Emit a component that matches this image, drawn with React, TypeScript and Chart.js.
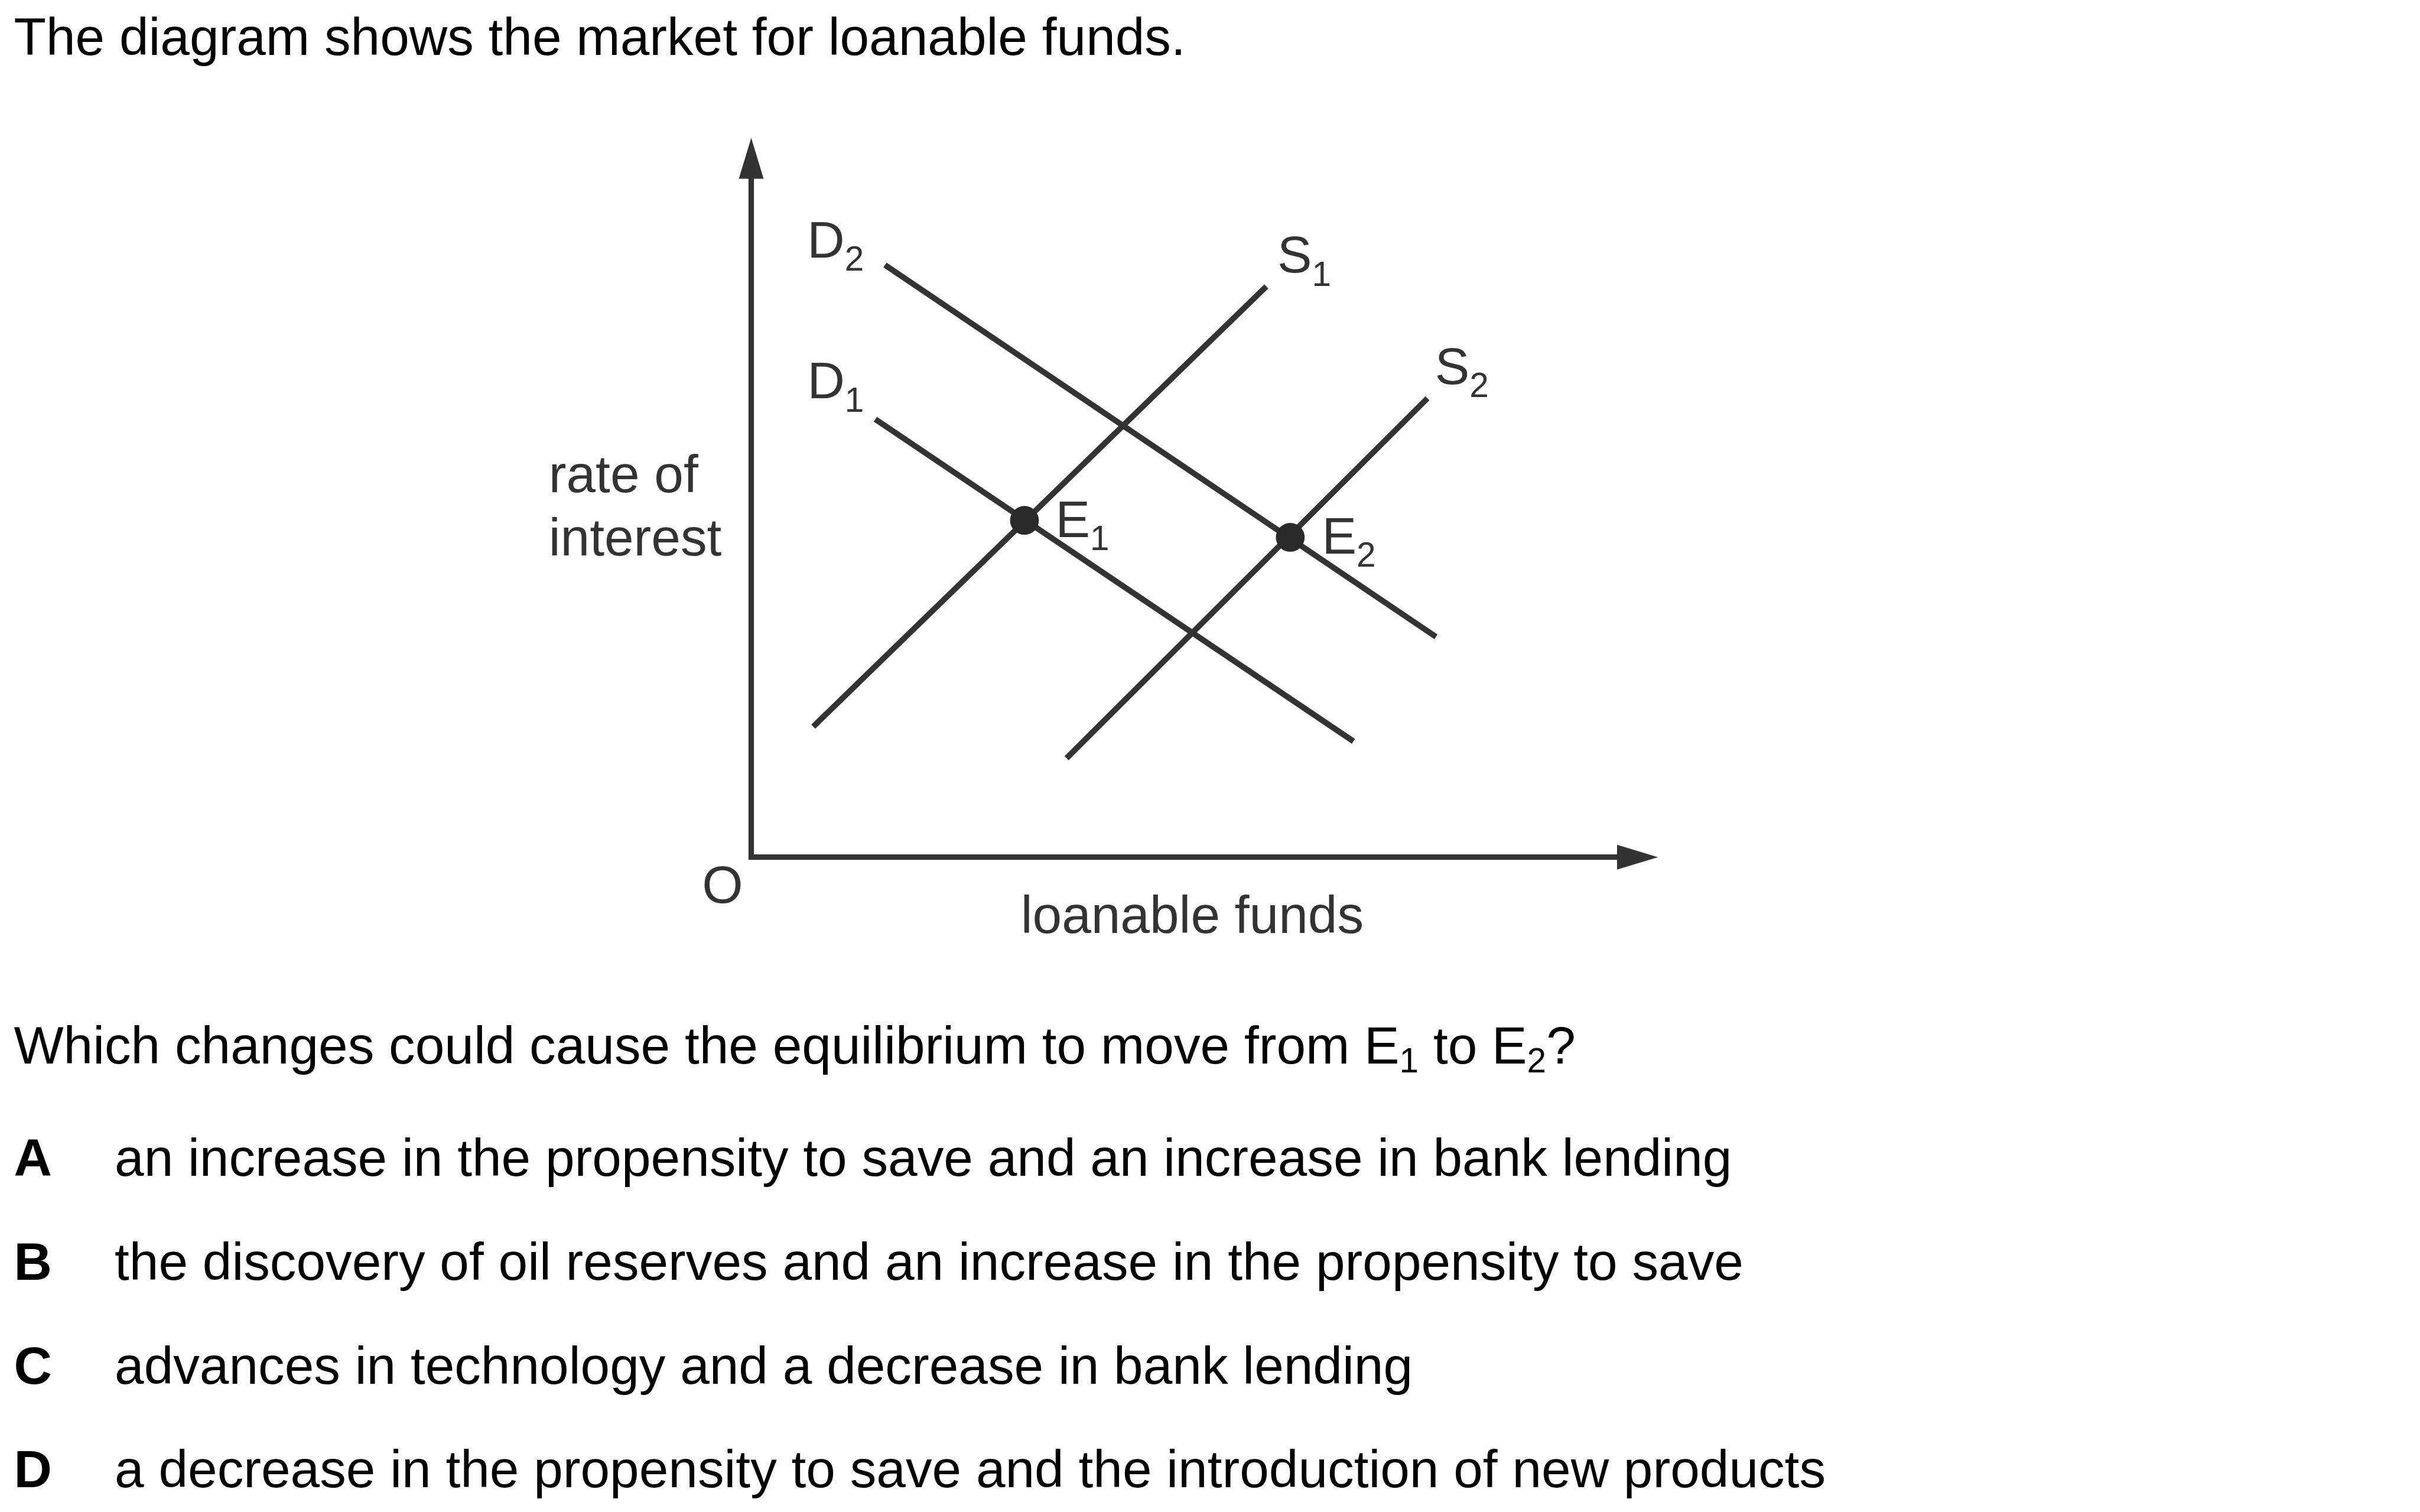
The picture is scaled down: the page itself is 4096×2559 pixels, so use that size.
import React, { useEffect, useRef } from "react";
import { Chart, registerables } from "chart.js";

Chart.register(...registerables);

const W = 4096;
const H = 2559;
const K = 0.975; // reference pixel -> window pixel

// ---------- data (diagram units, origin O at 0,0) ----------
const curveNames = ["D1", "D2", "S1", "S2"];
const d1X = [2.18, 10.58];
const d1Y = [7.75, 2.05];
const d2X = [2.35, 12.03];
const d2Y = [10.48, 3.9];
const s1X = [1.09, 9.05];
const s1Y = [2.31, 10.1];
const s2X = [5.54, 11.88];
const s2Y = [1.75, 8.12];
const equilibriumNames = ["E1", "E2"];
const equilibriumX = [4.8, 9.47];
const equilibriumY = [5.96, 5.66];
const axisEndX = 15.93;
const axisEndY = 12.73;
const viewX = [-12.945, 29.065];
const viewY = [-11.335, 14.915];

// ---------- texts ----------
const introText = "The diagram shows the market for loanable funds.";
const yAxisTitle = ["rate of", "interest"];
const xAxisTitle = "loanable funds";
const originLabel = "O";
const questionParts = [
  "Which changes could cause the equilibrium to move from E",
  "1",
  " to E",
  "2",
  "?",
];
const optionLetters = ["A", "B", "C", "D"];
const optionTexts = [
  "an increase in the propensity to save and an increase in bank lending",
  "the discovery of oil reserves and an increase in the propensity to save",
  "advances in technology and a decrease in bank lending",
  "a decrease in the propensity to save and the introduction of new products",
];

// ---------- styling ----------
const FONT = '"Liberation Sans", Arial, Helvetica, sans-serif';
const INK = "#333333";
const DOT = "#2a2a2a";
const TEXT = "#000000";
const BODY_SIZE = 91.5 * K;
const LABEL_SIZE = 90 * K;
const SUB_SIZE = 60 * K;

const curveXs = [d1X, d2X, s1X, s2X];
const curveYs = [d1Y, d2Y, s1Y, s2Y];
// which end of the curve carries its label and the offset (reference px)
const curveLabelAnchor = [
  { end: 0, dx: -118, dy: -36 },
  { end: 0, dx: -135, dy: -13 },
  { end: 1, dx: 19, dy: -24 },
  { end: 1, dx: 13, dy: -25 },
];
const eqLabelOffset = [
  { dx: 54, dy: 29 },
  { dx: 55, dy: 28 },
];

function drawSubLabel(
  ctx: CanvasRenderingContext2D,
  name: string,
  x: number,
  y: number
) {
  const main = name.slice(0, 1);
  const sub = name.slice(1);
  ctx.font = `${LABEL_SIZE}px ${FONT}`;
  ctx.fillText(main, x, y);
  const w = ctx.measureText(main).width;
  ctx.font = `${SUB_SIZE}px ${FONT}`;
  ctx.fillText(sub, x + w, y + 23 * K);
}

const diagramPlugin = {
  id: "diagramDecor",
  beforeDraw(chart: any) {
    const ctx: CanvasRenderingContext2D = chart.ctx;
    ctx.save();
    ctx.fillStyle = "#ffffff";
    ctx.fillRect(0, 0, chart.width, chart.height);
    ctx.restore();
  },
  beforeDatasetsDraw(chart: any) {
    const ctx: CanvasRenderingContext2D = chart.ctx;
    const xs = chart.scales.x;
    const ys = chart.scales.y;
    const ox = xs.getPixelForValue(0);
    const oy = ys.getPixelForValue(0);
    const tipX = xs.getPixelForValue(axisEndX);
    const tipY = ys.getPixelForValue(axisEndY);
    const headLen = 71 * K;
    const headHalf = 21.5 * K;
    ctx.save();
    ctx.strokeStyle = INK;
    ctx.fillStyle = INK;
    ctx.lineWidth = 9.5 * K;
    ctx.lineJoin = "miter";
    ctx.lineCap = "butt";
    ctx.beginPath();
    ctx.moveTo(ox, tipY + headLen - 2);
    ctx.lineTo(ox, oy);
    ctx.lineTo(tipX - headLen + 2, oy);
    ctx.stroke();
    // y arrow head
    ctx.beginPath();
    ctx.moveTo(ox, tipY);
    ctx.lineTo(ox - headHalf, tipY + headLen);
    ctx.lineTo(ox + headHalf, tipY + headLen);
    ctx.closePath();
    ctx.fill();
    // x arrow head
    ctx.beginPath();
    ctx.moveTo(tipX, oy);
    ctx.lineTo(tipX - headLen, oy - headHalf);
    ctx.lineTo(tipX - headLen, oy + headHalf);
    ctx.closePath();
    ctx.fill();
    ctx.restore();
  },
  afterDraw(chart: any) {
    const ctx: CanvasRenderingContext2D = chart.ctx;
    const xs = chart.scales.x;
    const ys = chart.scales.y;
    const ox = xs.getPixelForValue(0);
    const oy = ys.getPixelForValue(0);
    ctx.save();
    ctx.textBaseline = "alphabetic";
    ctx.textAlign = "left";

    // chart texts
    ctx.fillStyle = INK;
    ctx.font = `${BODY_SIZE}px ${FONT}`;
    ctx.fillText(yAxisTitle[0], ox - 351.5 * K, oy - 633.5 * K);
    ctx.fillText(yAxisTitle[1], ox - 351.5 * K, oy - 523.5 * K);
    ctx.fillText(originLabel, ox - 85.5 * K, oy + 79.5 * K);
    ctx.textAlign = "center";
    ctx.fillText(xAxisTitle, ox + 765.5 * K, oy + 131.5 * K);
    ctx.textAlign = "left";

    curveNames.forEach((name, i) => {
      const a = curveLabelAnchor[i];
      const px = xs.getPixelForValue(curveXs[i][a.end]);
      const py = ys.getPixelForValue(curveYs[i][a.end]);
      drawSubLabel(ctx, name, px + a.dx * K, py + a.dy * K);
    });
    equilibriumNames.forEach((name, i) => {
      const px = xs.getPixelForValue(equilibriumX[i]);
      const py = ys.getPixelForValue(equilibriumY[i]);
      drawSubLabel(
        ctx,
        name,
        px + eqLabelOffset[i].dx * K,
        py + eqLabelOffset[i].dy * K
      );
    });

    // question texts
    ctx.fillStyle = TEXT;
    const left = 24 * K;
    ctx.font = `${BODY_SIZE}px ${FONT}`;
    ctx.fillText(introText, left, 95 * K);

    let x = left;
    const qy = 1846 * K;
    questionParts.forEach((part, i) => {
      const isSub = i % 2 === 1;
      ctx.font = `${isSub ? SUB_SIZE : BODY_SIZE}px ${FONT}`;
      ctx.fillText(part, x, qy + (isSub ? 16 * K : 0));
      x += ctx.measureText(part).width;
    });

    const optionBaselines = [2041, 2222, 2402, 2582];
    optionLetters.forEach((letter, i) => {
      const by = optionBaselines[i] * K;
      ctx.font = `bold ${BODY_SIZE}px ${FONT}`;
      ctx.fillText(letter, left, by);
      ctx.font = `${BODY_SIZE}px ${FONT}`;
      ctx.fillText(optionTexts[i], 199 * K, by);
    });
    ctx.restore();
  },
};

export default function App() {
  const canvasRef = useRef<HTMLCanvasElement | null>(null);

  useEffect(() => {
    const canvas = canvasRef.current;
    if (!canvas) return;
    const datasets: any[] = [
      {
        label: "Equilibria",
        data: equilibriumX.map((x, i) => ({ x, y: equilibriumY[i] })),
        showLine: false,
        pointRadius: 25 * K,
        pointHoverRadius: 25 * K,
        pointBackgroundColor: DOT,
        pointBorderColor: DOT,
        pointBorderWidth: 0,
        order: 0,
      },
      ...curveNames.map((name, i) => ({
        label: name,
        data: curveXs[i].map((x, j) => ({ x, y: curveYs[i][j] })),
        showLine: true,
        borderColor: INK,
        borderWidth: 10 * K,
        borderCapStyle: "butt",
        pointRadius: 0,
        pointHoverRadius: 0,
        fill: false,
        tension: 0,
        order: 1,
      })),
    ];
    const chart = new Chart(canvas, {
      type: "scatter",
      data: { datasets },
      options: {
        animation: false,
        responsive: false,
        maintainAspectRatio: false,
        devicePixelRatio: 1,
        events: [],
        layout: { padding: 0 },
        plugins: {
          legend: { display: false },
          tooltip: { enabled: false },
          title: { display: false },
        },
        scales: {
          x: { type: "linear", min: viewX[0], max: viewX[1], display: false },
          y: { type: "linear", min: viewY[0], max: viewY[1], display: false },
        },
      } as any,
      plugins: [diagramPlugin],
    });
    return () => chart.destroy();
  }, []);

  return (
    <div
      style={{
        position: "fixed",
        left: 0,
        top: 0,
        width: W,
        height: H,
        background: "#ffffff",
      }}
    >
      <canvas
        ref={canvasRef}
        width={W}
        height={H}
        style={{ display: "block", width: W, height: H }}
      />
    </div>
  );
}
